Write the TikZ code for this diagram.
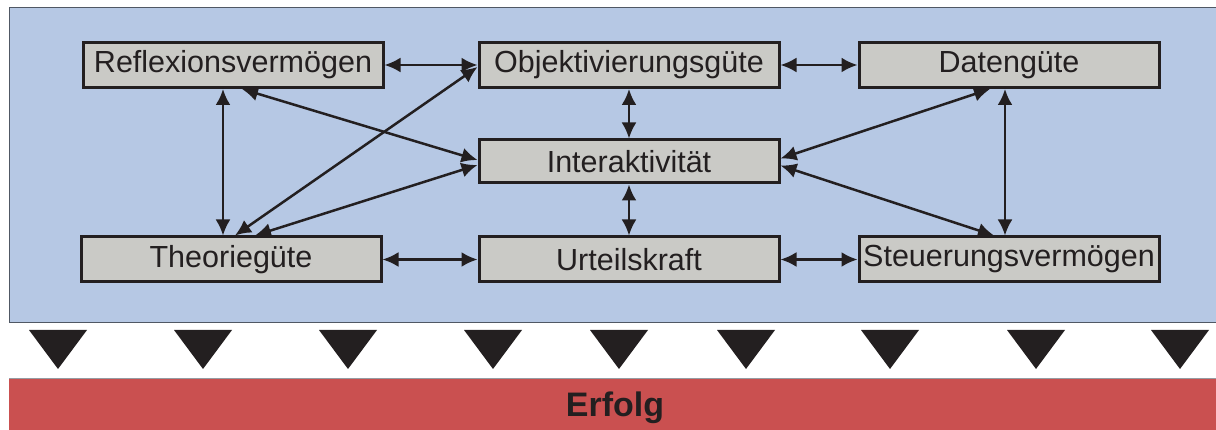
\documentclass[tikz,border=0pt]{standalone}
\usepackage{fontspec}
\setmainfont{Liberation Sans}
\usetikzlibrary{arrows.meta}
\definecolor{panelblue}{RGB}{182,200,228}
\definecolor{boxgray}{RGB}{202,202,198}
\definecolor{barred}{RGB}{202,80,80}
\definecolor{ink}{RGB}{35,31,32}
\definecolor{edgegray}{RGB}{80,88,100}
\tikzset{
  kbox/.style={draw=ink, line width=3pt, fill=boxgray, minimum width=300pt, minimum height=45pt,
    inner sep=0pt, text=ink, font=\fontsize{30.5}{30.5}\selectfont},
  link/.style={draw=ink, line width=2.5pt, {Latex[length=16pt,width=15pt]}-{Latex[length=16pt,width=15pt]}},
  tri/.style={fill=ink}
}
\begin{document}
\begin{tikzpicture}[x=1pt,y=-1pt]
\useasboundingbox (0,0) rectangle (1216,430);
\fill[white] (0,0) rectangle (1216,430);
% panels
\filldraw[fill=panelblue, draw=edgegray, line width=1pt] (9,8) rectangle (1218,323);
\fill[barred] (9,378) rectangle (1216,430);
\draw[edgegray!60, line width=0.8pt] (9,378) -- (1216,378);
% boxes
\node[kbox] (refl) at (233,65) {Reflexionsvermögen};
\node[kbox] (obj) at (629,65) {Objektivierungsgüte};
\node[kbox] (dat) at (1009,65) {Datengüte};
\node[kbox, minimum height=43pt] (inter) at (629,161.5) {Interaktivität};
\node[kbox] (theo) at (231,259.5) {Theoriegüte};
\node[kbox] (urt) at (629,259.5) {Urteilskraft};
\node[kbox] (steu) at (1009,259.5) {Steuerungsvermögen};
% links
\draw[link] (refl.east) -- (obj.west);
\draw[link] (obj.east) -- (dat.west);
\draw[link] (theo.east) -- (urt.west);
\draw[link] (urt.east) -- (steu.west);
\draw[link] (obj.south) -- (inter.north);
\draw[link] (inter.south) -- (urt.north);
\draw[link] ([xshift=-10pt]refl.south) -- ([xshift=-8pt]theo.north);
\draw[link] ([xshift=-4pt]dat.south) -- ([xshift=-4pt]steu.north);
\draw[link] ([xshift=9pt]refl.south) -- ([yshift=1.5pt]inter.west);
\draw[link] ([xshift=4pt]theo.north) -- ([yshift=-2pt]obj.west);
\draw[link] ([xshift=24pt]theo.north) -- ([yshift=-3.5pt]inter.west);
\draw[link] ([xshift=-19pt]dat.south) -- ([yshift=3pt]inter.east);
\draw[link] ([xshift=-15pt]steu.north) -- ([yshift=-4pt]inter.east);
% triangles
\foreach \cx in {58,203,348,493,619,746,890,1036,1180}{
  \fill[ink] (\cx-29,330) -- (\cx+29,330) -- (\cx,369) -- cycle;
}
\node[text=ink, anchor=base, inner sep=0pt, font=\bfseries\fontsize{34}{34}\selectfont] (erf) at (615,416) {Erfolg};
\end{tikzpicture}
\end{document}
